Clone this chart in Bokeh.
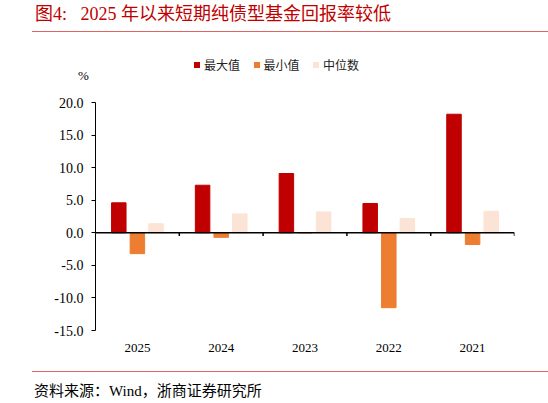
import numpy as np
from bokeh.plotting import figure
from bokeh.layouts import column
from bokeh.models import (ColumnDataSource, Range1d, Span, Div,
                          FixedTicker, NumeralTickFormatter)
from bokeh.transform import dodge
from bokeh.embed import file_html
from bokeh.resources import INLINE

# dados (retorno, %)
years = ["2025", "2024", "2023", "2022", "2021"]
max_vals = [4.6, 7.3, 9.1, 4.5, 18.2]
min_vals = [-3.2, -0.7, 0.0, -11.5, -1.8]
med_vals = [1.4, 2.9, 3.2, 2.2, 3.3]
series_names = ["最大值", "最小值", "中位数"]
y_ticks = [-15, -10, -5, 0, 5, 10, 15, 20]

colors = ["#C00000", "#ED7D31", "#FBE3D5"]
serif = "Liberation Serif, Noto Sans CJK SC"
fonte_css = "'Liberation Serif','Noto Sans CJK SC',serif"
W = 548

# cabeçalho: título, linha vermelha, legenda e unidade (HTML)
itens = ""
for i, (nome, cor) in enumerate(zip(series_names, colors)):
    x0 = 194 + i * 59.5
    itens += (f'<div style="position:absolute;left:{x0}px;top:62px;width:6px;height:6px;'
              f'background:{cor};"></div>'
              f'<div style="position:absolute;left:{x0 + 10}px;top:57px;font-size:12px;'
              f'line-height:16px;color:#222;font-family:\'Noto Sans CJK SC\';'
              f'white-space:nowrap;">{nome}</div>')

header_html = (
    f'<div style="position:relative;width:{W}px;height:92px;font-family:{fonte_css};">'
    '<div style="position:absolute;left:35px;top:3px;font-size:18px;line-height:22px;'
    'color:#C00000;white-space:pre;">图4:   2025 年以来短期纯债型基金回报率较低</div>'
    f'<div style="position:absolute;left:32px;top:31px;width:{W - 32}px;height:1px;'
    'background:#E06666;"></div>'
    + itens +
    '<div style="position:absolute;left:78px;top:68px;font-size:13px;line-height:16px;'
    'color:#000;">%</div>'
    '</div>'
)
header = Div(text=header_html, width=W, height=92, margin=0)

# gráfico principal
pos = np.arange(len(years)) + 0.5
source = ColumnDataSource(data=dict(x=pos, mx=max_vals, mn=min_vals, md=med_vals))

p = figure(width=W, height=270, x_range=Range1d(0, len(years)), y_range=Range1d(-15, 20),
           output_backend="svg", toolbar_location=None, title=None,
           min_border_left=95, min_border_right=34, min_border_top=10, min_border_bottom=32)
p.outline_line_color = None
p.grid.visible = False

p.vbar(x=dodge("x", -0.222), top="mx", width=0.173, source=source,
       fill_color=colors[0], line_color=colors[0])
p.vbar(x=dodge("x", 0.0), top="mn", width=0.173, source=source,
       fill_color=colors[1], line_color=colors[1])
p.vbar(x=dodge("x", 0.222), top="md", width=0.173, source=source,
       fill_color=colors[2], line_color=colors[2])

# linha do zero e marcas entre categorias
p.add_layout(Span(location=0, dimension="width", line_color="black", line_width=1.5))
bounds = np.arange(1, len(years) + 1)
p.segment(x0=bounds, y0=np.zeros(len(bounds)), x1=bounds, y1=np.full(len(bounds), -0.5),
          line_color="black", line_width=1.5)

# eixo x
p.xaxis.ticker = FixedTicker(ticks=list(pos))
p.xaxis.major_label_overrides = {float(x): y for x, y in zip(pos, years)}
p.xaxis.axis_line_color = None
p.xaxis.major_tick_line_color = None
p.xaxis.minor_tick_line_color = None
p.xaxis.major_label_standoff = 7
p.xaxis.major_label_text_font = serif
p.xaxis.major_label_text_font_size = "13px"
p.xaxis.major_label_text_color = "black"

# eixo y
p.yaxis.ticker = FixedTicker(ticks=y_ticks)
p.yaxis.formatter = NumeralTickFormatter(format="0.0")
p.yaxis.axis_line_color = "black"
p.yaxis.major_tick_line_color = "black"
p.yaxis.major_tick_out = 4
p.yaxis.major_tick_in = 0
p.yaxis.minor_tick_line_color = None
p.yaxis.major_label_standoff = 8
p.yaxis.major_label_text_font = serif
p.yaxis.major_label_text_font_size = "14px"
p.yaxis.major_label_text_color = "black"

# rodapé: linha vermelha e fonte
footer_html = (
    f'<div style="position:relative;width:{W}px;height:41px;font-family:{fonte_css};">'
    f'<div style="position:absolute;left:32px;top:9px;width:{W - 32}px;height:1px;'
    'background:#E06666;"></div>'
    '<div style="position:absolute;left:34px;top:19px;font-size:15px;line-height:20px;'
    'color:#000;white-space:nowrap;">资料来源：Wind，浙商证券研究所</div>'
    '</div>'
)
footer = Div(text=footer_html, width=W, height=41, margin=0)

layout = column(header, p, footer, spacing=0)
open("out.html", "w").write(file_html(layout, INLINE))
